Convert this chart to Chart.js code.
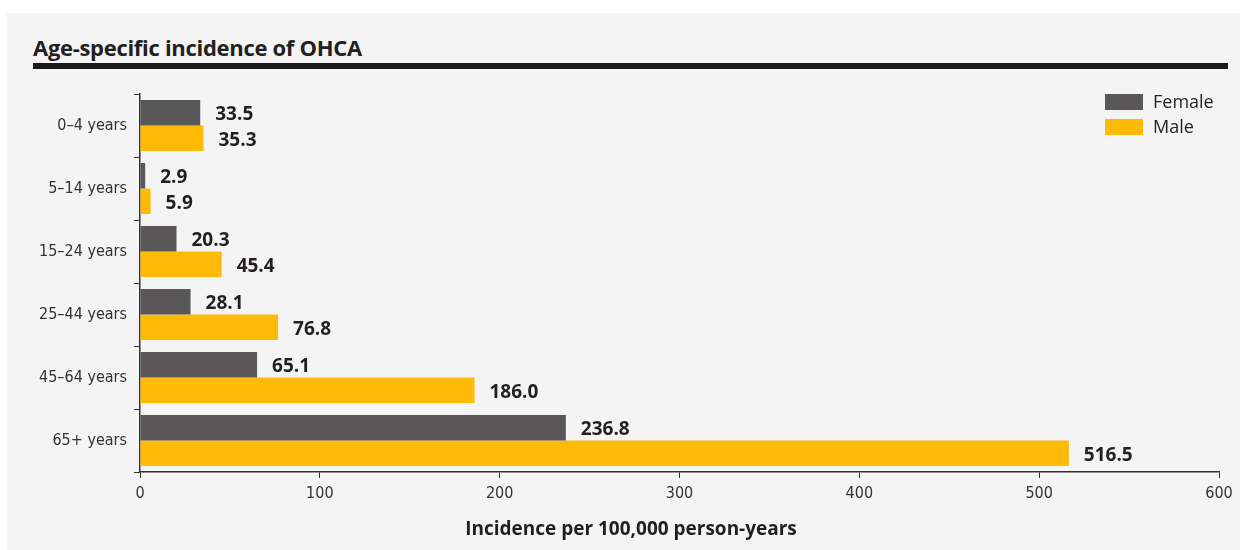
<!DOCTYPE html>
<html>
<head>
<meta charset="utf-8">
<script src="https://cdn.jsdelivr.net/npm/chart.js@4"></script>
<style>
  html, body { margin: 0; padding: 0; background: #fff; }
  #wrap { position: relative; width: 1240px; height: 550px; overflow: hidden; }
  #panel { position: absolute; left: 7px; top: 13px; right: 0; bottom: 0; background: #f4f4f4; }
  #title { position: absolute; left: 33px; top: 32px; margin: 0; font: bold 22px "Open Sans", "Noto Sans", sans-serif; color: #231f20; letter-spacing: -0.3px; }
  #rule { position: absolute; left: 33px; top: 63px; width: 1195px; height: 6px; background: #1a1a1a; }
  canvas { position: absolute; left: 0; top: 0; }
</style>
</head>
<body>
<div id="wrap">
  <div id="panel"></div>
  <h2 id="title">Age-specific incidence of OHCA</h2>
  <div id="rule"></div>
  <canvas id="c" width="1240" height="550"></canvas>
</div>
<script>
// données
const AGE_GROUPS = ["0–4 years", "5–14 years", "15–24 years", "25–44 years", "45–64 years", "65+ years"];
const FEMALE = [33.5, 2.9, 20.3, 28.1, 65.1, 236.8];
const MALE = [35.3, 5.9, 45.4, 76.8, 186.0, 516.5];
const X_TICKS = [0, 100, 200, 300, 400, 500, 600];
const X_TITLE = "Incidence per 100,000 person-years";

const COL_FEMALE = "#595757";
const COL_MALE = "#ffba08";
const INK = "#231f20";
const NARROW = '"DejaVu Sans Condensed", "Liberation Sans Narrow", sans-serif';
const SANS = '"Open Sans", "Noto Sans", sans-serif';

// valeurs à droite des barres
const valueLabels = {
  id: "valueLabels",
  afterDatasetsDraw(chart) {
    const ctx = chart.ctx;
    ctx.save();
    ctx.font = "bold 19px " + SANS;
    ctx.fillStyle = INK;
    ctx.textBaseline = "middle";
    ctx.textAlign = "left";
    chart.data.datasets.forEach((ds, i) => {
      const meta = chart.getDatasetMeta(i);
      meta.data.forEach((el, j) => {
        ctx.fillText(ds.data[j].toFixed(1), el.x + 15, el.y + 2);
      });
    });
    ctx.restore();
  }
};

// légende en haut à droite + titre de l'axe x
const extras = {
  id: "extras",
  afterDraw(chart) {
    const ctx = chart.ctx;
    ctx.save();
    ctx.font = "18px " + SANS;
    ctx.textBaseline = "middle";
    chart.data.datasets.forEach((ds, i) => {
      const y = 94 + i * 25;
      ctx.fillStyle = ds.backgroundColor;
      ctx.fillRect(1105, y, 38, 16);
      ctx.fillStyle = INK;
      ctx.fillText(ds.label, 1153, y + 9);
    });
    ctx.font = "bold 19px " + SANS;
    ctx.textAlign = "center";
    ctx.fillText(X_TITLE, 631, 530);
    ctx.restore();
  }
};

new Chart(document.getElementById("c"), {
  type: "bar",
  data: {
    labels: AGE_GROUPS,
    datasets: [
      { label: "Female", data: FEMALE, backgroundColor: COL_FEMALE },
      { label: "Male", data: MALE, backgroundColor: COL_MALE }
    ]
  },
  options: {
    indexAxis: "y",
    responsive: false,
    animation: false,
    devicePixelRatio: 1,
    layout: { padding: { top: 94, right: 21, left: 0, bottom: 0 } },
    datasets: { bar: { categoryPercentage: 0.81, barPercentage: 1.0 } },
    plugins: { legend: { display: false }, tooltip: { enabled: false } },
    scales: {
      x: {
        min: 0,
        max: 600,
        afterFit(s) { s.height = 78; },
        afterBuildTicks(s) { s.ticks = X_TICKS.map(v => ({ value: v })); },
        grid: { drawOnChartArea: false, drawTicks: true, tickLength: 6, color: "#333", tickColor: "#333" },
        border: { color: "#333", width: 1.5 },
        ticks: { color: "#333", font: { family: NARROW, size: 16 }, padding: 6 }
      },
      y: {
        afterFit(s) { s.width = 140; },
        grid: { drawOnChartArea: false, drawTicks: true, tickLength: 6, offset: true, color: "#333", tickColor: "#333" },
        border: { color: "#333", width: 1.5 },
        ticks: { color: "#333", font: { family: NARROW, size: 16 }, padding: 7 }
      }
    }
  },
  plugins: [valueLabels, extras]
});
</script>
</body>
</html>
